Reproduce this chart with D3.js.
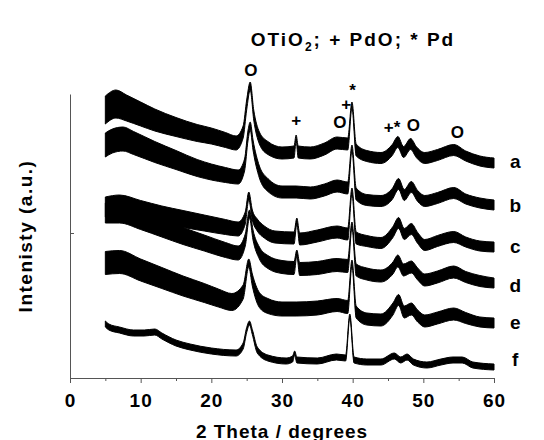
<!DOCTYPE html>
<html>
<head>
<meta charset="utf-8">
<script src="https://cdn.jsdelivr.net/npm/d3@7"></script>
<style>
  html, body { margin: 0; padding: 0; background: #fff; }
  svg { display: block; }
  text { font-family: "Liberation Sans", Arial, sans-serif; font-weight: bold; fill: #000; }
</style>
</head>
<body>
<svg id="chart" width="544" height="440"></svg>
<script>
// XRD patterns of samples a–f: [2θ (deg), intensity (a.u., offset-stacked), noise band width (a.u.)]
const traceA = [
  [5.0,268,28],[6.5,274,28],[8,270,26],[10,264,24],[12,258,22],[15,251,19],[18,245,17],[20,242,16],
  [22,238,15],[23.5,235,14],[24.5,246,12],[25.0,273,10],[25.5,292,8],[26.0,263,10],[26.8,240,12],
  [28,230,13],[30,225,12],[31.7,226,12],[32.0,240,6],[32.3,226,12],[34,225,12],[36,229,12],
  [37.8,235,12],[39.3,234,12],[39.9,273,6],[40.5,228,12],[42,222,11],[44,220,11],[45.6,228,11],
  [46.4,236,11],[47.2,226,11],[48.2,234,11],[49,226,11],[50.2,220,11],[52,223,11],[54.3,228,11],
  [56,222,10],[58,217,10],[60,215,10]
];
const traceB = [
  [5.0,233,24],[6,237,24],[7.5,239,24],[9,235,23],[12,226,21],[15,218,19],[18,210,17],[20,206,16],
  [22,203,15],[23.8,201,14],[24.7,213,12],[25.2,243,10],[25.5,252,8],[25.9,233,10],[26.8,206,12],
  [28,193,13],[30,186,12],[32,186,12],[34,185,12],[36,188,12],[37.8,192,12],[39.3,190,12],
  [39.9,230,6],[40.5,184,12],[42,178,11],[44,177,11],[45.6,184,11],[46.5,194,11],[47.3,183,11],
  [48.3,191,11],[49.2,182,11],[50.2,177,11],[52,180,11],[54.3,185,11],[56,179,10],[58,175,10],
  [60,173,10]
];
const traceC = [
  [5.0,171,20],[7,173,20],[10,168,19],[13,163,18],[16,159,17],[19,155,16],[22,151,15],[23.8,149,14],
  [24.8,160,12],[25.3,182,8],[25.8,163,10],[26.5,153,12],[27.5,146,12],[29,141,12],[31.7,140,12],
  [32.1,157,6],[32.5,139,12],[35,142,12],[37.8,146,12],[39.3,144,12],[39.9,187,6],[40.5,140,12],
  [42,137,11],[44,135,11],[45.7,146,11],[46.5,155,11],[47.3,144,11],[48.3,149,11],[49.2,140,11],
  [50.2,133,11],[52,137,11],[54.3,141,11],[56,136,10],[58,132,10],[60,131,10]
];
const traceD = [
  [5.0,165,20],[7,165,20],[10,158,19],[13,150,18],[16,142,17],[19,135,16],[22,128,15],[23.8,125,14],
  [24.8,138,12],[25.4,164,8],[25.9,143,10],[26.8,125,12],[28,116,13],[30,111,13],[31.7,110,13],
  [32.1,125,6],[32.5,109,13],[35,110,13],[37.8,113,13],[39.3,112,13],[39.9,153,6],[40.5,108,12],
  [42,104,12],[44,102,12],[45.7,110,12],[46.4,117,12],[47.2,108,12],[48.3,111,12],[49.2,104,12],
  [50.2,98,12],[52,101,12],[54.3,106,12],[56,101,11],[58,97,11],[60,95,10]
];
const traceE = [
  [5.0,115,23],[7,116,23],[10,108,22],[13,100,21],[16,92,20],[19,85,19],[21,80,18],[22.9,76,17],
  [24.5,86,14],[25.3,115,8],[25.8,98,12],[26.8,78,15],[28,72,15],[30,69,14],[32,69,14],[35,70,14],
  [37.8,73,13],[39.3,71,13],[39.9,115,6],[40.5,66,12],[42,59,12],[44,58,12],[45.7,69,12],
  [46.5,78,11],[47.3,66,12],[48.3,69,12],[49.2,62,12],[50.2,57,12],[52,60,12],[54.3,64,12],
  [56,60,11],[58,56,10],[60,55,10]
];
const traceF = [
  [5.0,54,6],[5.5,51,6],[7,48,6],[9,45,6],[10.5,45,6],[12,46,6],[13,42,6],[15,35,6],[17,31,6],
  [20,27,6],[23.5,25,6],[24.5,32,6],[25.0,48,5],[25.4,55,4],[25.8,46,5],[26.5,28,6],[28,20,6],
  [30.6,17,6],[31.5,19,6],[31.8,25,4],[32.1,18,6],[35,17,6],[37.7,21,6],[39.0,20,6],[39.6,62,4],
  [40.2,18,6],[42,16,6],[44,16,6],[45.9,22,6],[46.8,18,6],[47.7,21,6],[48.6,16,6],[50.5,13,6],
  [52.5,16,6],[54.2,18,6],[55.5,18,6],[57,13,6],[60,11,6]
];

const sampleNames = ["a", "b", "c", "d", "e", "f"];
const sampleTraces = [traceA, traceB, traceC, traceD, traceE, traceF];
const sampleLabelLevel = [210, 166, 125, 86, 49, 12];   // baseline level of each sample letter

// Phase markers: O = TiO2 (anatase), + = PdO, * = Pd
const markerSymbols = ["O", "+", "O", "+", "*", "+", "*", "O", "O"];
const markerTheta   = [25.6, 32.0, 38.2, 39.1, 40.0, 45.1, 46.3, 48.6, 54.8];
const markerLevel   = [302, 252, 250, 268, 282, 245, 245, 247, 240];

const xTicks = [0, 10, 20, 30, 40, 50, 60];
const xMinorTicks = [5, 15, 25, 35, 45, 55];
const yTicks = [145];

const svg = d3.select("#chart");

const x = d3.scaleLinear().domain([0, 60]).range([70, 494]);
const y = d3.scaleLinear().domain([0, 284]).range([378, 94]);

const fontStack = '"Liberation Sans", Arial, sans-serif';

// axes
const axisColor = "#555";
const gx = svg.append("g").attr("transform", `translate(0,${y(0)})`)
  .call(d3.axisBottom(x).tickValues(xTicks).tickSize(5).tickSizeOuter(0).tickFormat(d3.format("d")));
gx.select(".domain").attr("stroke", axisColor);
gx.selectAll(".tick line").attr("stroke", axisColor);
gx.selectAll(".tick text")
  .attr("font-size", 19).attr("letter-spacing", 1).attr("dy", null).attr("y", 29)
  .style("font-family", fontStack).style("font-weight", "bold");

const gxm = svg.append("g").attr("transform", `translate(0,${y(0)})`)
  .call(d3.axisBottom(x).tickValues(xMinorTicks).tickSize(3).tickFormat(""));
gxm.select(".domain").remove();
gxm.selectAll(".tick line").attr("stroke", axisColor);

const gy = svg.append("g").attr("transform", `translate(${x(0)},0)`)
  .call(d3.axisLeft(y).tickValues(yTicks).tickSize(-4).tickSizeOuter(0).tickFormat(""));
gy.select(".domain").attr("stroke", axisColor);
gy.selectAll(".tick line").attr("stroke", axisColor);

// traces drawn as noise bands
const band = d3.area()
  .x(d => x(d[0]))
  .y0(d => y(d[1] - d[2] / 2))
  .y1(d => y(d[1] + d[2] / 2))
  .curve(d3.curveMonotoneX);

svg.append("g").selectAll("path")
  .data(sampleTraces)
  .join("path")
  .attr("d", band)
  .attr("fill", "#000")
  .attr("stroke", "#000")
  .attr("stroke-width", 1)
  .attr("stroke-linejoin", "round");

// sample letters
svg.append("g").selectAll("text")
  .data(sampleNames)
  .join("text")
  .attr("x", x(63))
  .attr("y", (d, i) => y(sampleLabelLevel[i]))
  .attr("text-anchor", "middle")
  .attr("font-size", 19)
  .text(d => d);

// phase markers
svg.append("g").selectAll("text")
  .data(markerSymbols)
  .join("text")
  .attr("x", (d, i) => x(markerTheta[i]))
  .attr("y", (d, i) => y(markerLevel[i]))
  .attr("text-anchor", "middle")
  .attr("font-size", 17)
  .text(d => d);

// title
const title = svg.append("text")
  .attr("x", 353).attr("y", 46)
  .attr("text-anchor", "middle")
  .attr("font-size", 19)
  .attr("letter-spacing", 2);
title.append("tspan").text("OTiO");
title.append("tspan").attr("font-size", 12).attr("dy", 5).text("2");
title.append("tspan").attr("dy", -5).text("; + PdO; * Pd");

// axis titles
svg.append("text")
  .attr("x", (x(0) + x(60)) / 2).attr("y", 438)
  .attr("text-anchor", "middle")
  .attr("font-size", 19)
  .attr("letter-spacing", 1)
  .text("2 Theta / degrees");

svg.append("text")
  .attr("transform", `translate(32,${(y(0) + y(284)) / 2}) rotate(-90)`)
  .attr("text-anchor", "middle")
  .attr("font-size", 19)
  .attr("letter-spacing", 1.5)
  .text("Intenisty (a.u.)");
</script>
</body>
</html>
